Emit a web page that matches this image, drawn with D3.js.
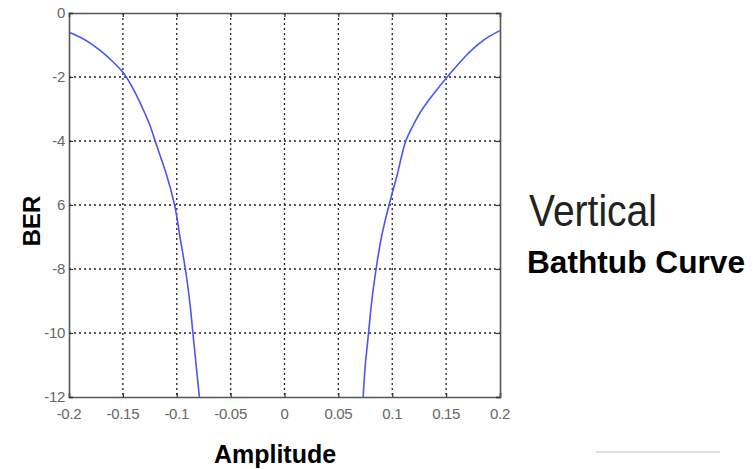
<!DOCTYPE html>
<html>
<head>
<meta charset="utf-8">
<script src="https://cdn.jsdelivr.net/npm/d3@7"></script>
<style>
body { margin: 0; background: #fff; }
svg { display: block; }
</style>
</head>
<body>
<div id="chart"></div>
<script>
// (amplitude, log10 BER)
var leftAmp  = [-0.2, -0.19, -0.18, -0.17, -0.16, -0.15, -0.14, -0.13, -0.125, -0.12, -0.115, -0.11, -0.102, -0.097, -0.092, -0.088, -0.085, -0.082, -0.079];
var leftBer  = [-0.6, -0.75, -0.95, -1.2, -1.5, -1.85, -2.4, -3.1, -3.5, -4.0, -4.5, -5.0, -6.0, -7.0, -8.0, -9.0, -10.0, -11.0, -12.0];
var rightAmp = [0.073, 0.075, 0.078, 0.081, 0.085, 0.09, 0.097, 0.105, 0.1085, 0.1125, 0.1195, 0.128, 0.139, 0.151, 0.16, 0.17, 0.18, 0.19, 0.2];
var rightBer = [-12.0, -11.0, -10.0, -9.0, -8.0, -7.0, -6.0, -5.0, -4.5, -4.0, -3.5, -3.0, -2.5, -2.0, -1.65, -1.28, -0.97, -0.73, -0.55];
var xTicks = [-0.2, -0.15, -0.1, -0.05, 0, 0.05, 0.1, 0.15, 0.2];
var xTickLabels = ["-0.2", "-0.15", "-0.1", "-0.05", "0", "0.05", "0.1", "0.15", "0.2"];
var yTicks = [0, -2, -4, -6, -8, -10, -12];

var width = 753, height = 469;
var plot = { left: 69, right: 500, top: 13, bottom: 397 };

var svg = d3.select("#chart").append("svg")
	.attr("width", width)
	.attr("height", height);

var x = d3.scaleLinear().domain([-0.2, 0.2]).range([plot.left, plot.right]);
var y = d3.scaleLinear().domain([-12, 0]).range([plot.bottom, plot.top]);

// dotted grid
var grid = svg.append("g").attr("stroke", "#222").attr("stroke-width", 1.3).attr("stroke-dasharray", "2,3");
grid.selectAll("line.v").data(xTicks.slice(1, -1)).enter().append("line")
	.attr("x1", function(d) { return x(d); })
	.attr("x2", function(d) { return x(d); })
	.attr("y1", plot.top)
	.attr("y2", plot.bottom);
grid.selectAll("line.h").data(yTicks.slice(1, -1)).enter().append("line")
	.attr("x1", plot.left)
	.attr("x2", plot.right)
	.attr("y1", function(d) { return y(d); })
	.attr("y2", function(d) { return y(d); });

// axes, ticks pointing inward on all four sides
var axisColor = "#555";
var bottomAxis = svg.append("g").attr("transform", "translate(0," + plot.bottom + ")")
	.call(d3.axisTop(x).tickValues(xTicks).tickSize(4).tickFormat(""));
var topAxis = svg.append("g").attr("transform", "translate(0," + plot.top + ")")
	.call(d3.axisBottom(x).tickValues(xTicks).tickSize(4).tickFormat(""));
var leftAxis = svg.append("g").attr("transform", "translate(" + plot.left + ",0)")
	.call(d3.axisRight(y).tickValues(yTicks).tickSize(4).tickFormat(""));
var rightAxis = svg.append("g").attr("transform", "translate(" + plot.right + ",0)")
	.call(d3.axisLeft(y).tickValues(yTicks).tickSize(4).tickFormat(""));
[bottomAxis, topAxis, leftAxis, rightAxis].forEach(function(a) {
	a.select(".domain").attr("stroke", axisColor).attr("stroke-width", 1.6);
	a.selectAll(".tick line").attr("stroke", "#333").attr("stroke-width", 1.2);
});

// tick labels
var labelFont = "Liberation Sans, Arial, sans-serif";
svg.append("g").selectAll("text").data(xTicks).enter().append("text")
	.attr("x", function(d) { return x(d); })
	.attr("y", 419)
	.attr("text-anchor", "middle")
	.attr("font-family", labelFont)
	.attr("font-size", 15)
	.attr("letter-spacing", -0.3)
	.attr("fill", "#666")
	.text(function(d, i) { return xTickLabels[i]; });
svg.append("g").selectAll("text").data(yTicks).enter().append("text")
	.attr("x", plot.left - 4)
	.attr("y", function(d) { return y(d) + 5; })
	.attr("text-anchor", "end")
	.attr("font-family", labelFont)
	.attr("font-size", 15)
	.attr("letter-spacing", -0.3)
	.attr("fill", "#666")
	.text(function(d) { return d; });

// the white label box pasted over the y tick labels
svg.append("rect")
	.attr("x", 0).attr("y", 152)
	.attr("width", 57).attr("height", 112)
	.attr("fill", "#fff");

// curve
var line = d3.line()
	.x(function(d) { return x(d[0]); })
	.y(function(d) { return y(d[1]); })
	.curve(d3.curveMonotoneY);
var leftPts = leftAmp.map(function(a, i) { return [a, leftBer[i]]; });
var rightPts = rightAmp.map(function(a, i) { return [a, rightBer[i]]; });
svg.selectAll("path.curve").data([leftPts, rightPts]).enter().append("path")
	.attr("class", "curve")
	.attr("d", line)
	.attr("fill", "none")
	.attr("stroke", "#4a55f5")
	.attr("stroke-width", 1.6);

// titles
svg.append("text")
	.attr("transform", "translate(40,221) rotate(-90)")
	.attr("text-anchor", "middle")
	.attr("font-family", labelFont)
	.attr("font-weight", "bold")
	.attr("font-size", 24)
	.text("BER");
svg.append("text")
	.attr("x", 275)
	.attr("y", 463)
	.attr("text-anchor", "middle")
	.attr("font-family", labelFont)
	.attr("font-weight", "bold")
	.attr("font-size", 25)
	.text("Amplitude");
svg.append("text")
	.attr("x", 529)
	.attr("y", 226)
	.attr("font-family", labelFont)
	.attr("font-size", 45)
	.attr("textLength", 128)
	.attr("lengthAdjust", "spacingAndGlyphs")
	.attr("fill", "#222")
	.text("Vertical");
svg.append("text")
	.attr("x", 527)
	.attr("y", 273)
	.attr("font-family", labelFont)
	.attr("font-weight", "bold")
	.attr("font-size", 31)
	.attr("textLength", 218)
	.attr("lengthAdjust", "spacingAndGlyphs")
	.text("Bathtub Curve");

// faint rule at bottom right
svg.append("line")
	.attr("x1", 596).attr("x2", 720)
	.attr("y1", 452).attr("y2", 452)
	.attr("stroke", "#ddd")
	.attr("stroke-width", 2);
</script>
</body>
</html>
